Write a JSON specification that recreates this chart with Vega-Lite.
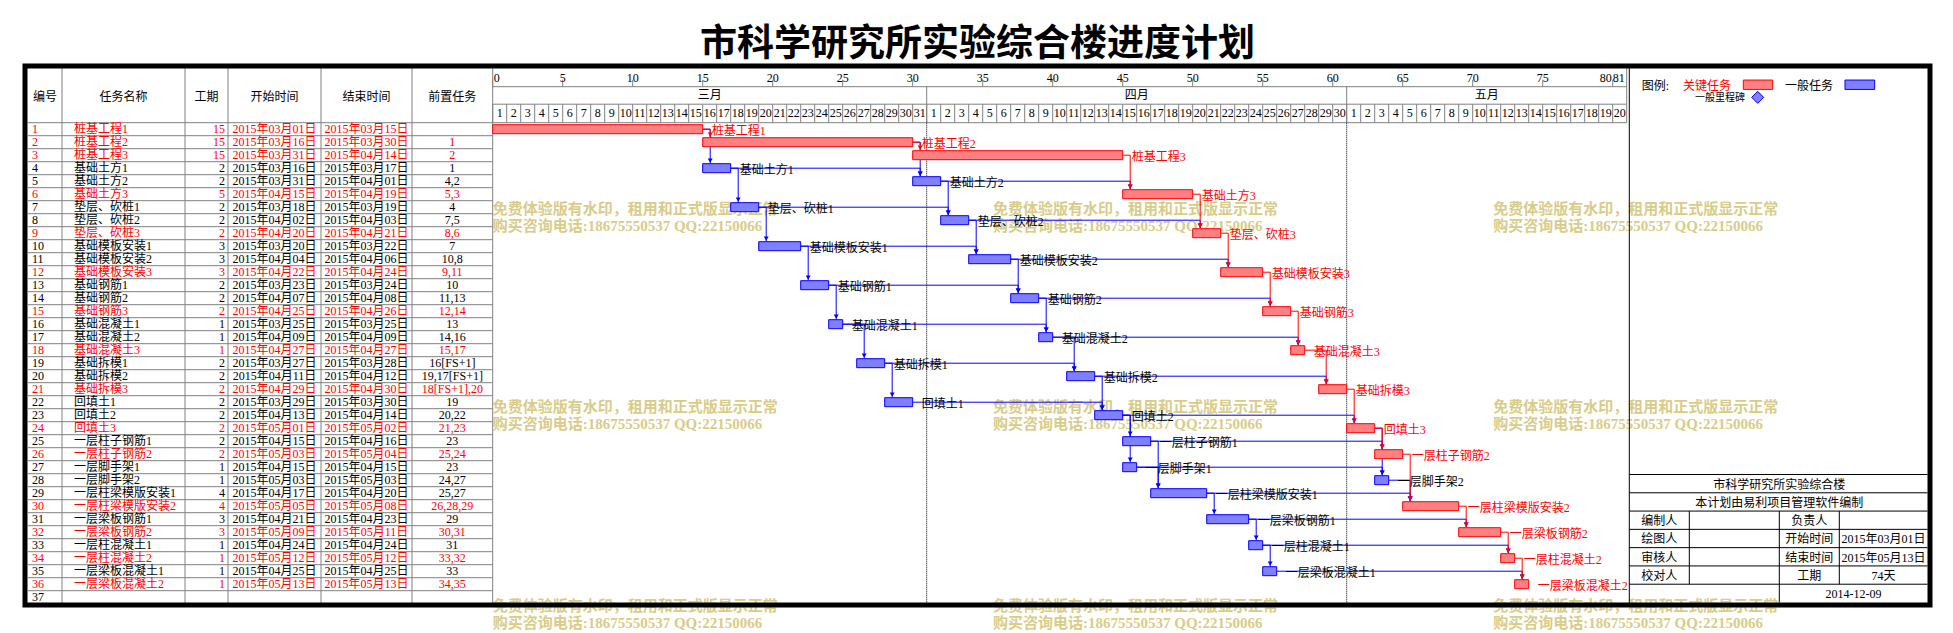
{
"$schema":"https://vega.github.io/schema/vega-lite/v6.json",
"width":1905,"height":539,
"autosize":{"type":"none"},
"padding":{"left":25,"top":66,"right":23,"bottom":28},
"background":"white",
"title":{"text":"市科学研究所实验综合楼进度计划","font":"Noto Sans CJK SC","fontSize":37,"fontWeight":"bold","color":"#000000","anchor":"middle","frame":"group","offset":3,"dy":3},
"config":{"view":{"stroke":null}},
"data":{"values":[{}]},
"datasets":{
"tasks":[
{"id":1,"name":"桩基工程1","dur":"15","start":"2015年03月01日","end":"2015年03月15日","pred":"","kind":"关键","s":0,"f":15},
{"id":2,"name":"桩基工程2","dur":"15","start":"2015年03月16日","end":"2015年03月30日","pred":"1","kind":"关键","s":15,"f":30},
{"id":3,"name":"桩基工程3","dur":"15","start":"2015年03月31日","end":"2015年04月14日","pred":"2","kind":"关键","s":30,"f":45},
{"id":4,"name":"基础土方1","dur":"2","start":"2015年03月16日","end":"2015年03月17日","pred":"1","kind":"一般","s":15,"f":17},
{"id":5,"name":"基础土方2","dur":"2","start":"2015年03月31日","end":"2015年04月01日","pred":"4,2","kind":"一般","s":30,"f":32},
{"id":6,"name":"基础土方3","dur":"5","start":"2015年04月15日","end":"2015年04月19日","pred":"5,3","kind":"关键","s":45,"f":50},
{"id":7,"name":"垫层、砍桩1","dur":"2","start":"2015年03月18日","end":"2015年03月19日","pred":"4","kind":"一般","s":17,"f":19},
{"id":8,"name":"垫层、砍桩2","dur":"2","start":"2015年04月02日","end":"2015年04月03日","pred":"7,5","kind":"一般","s":32,"f":34},
{"id":9,"name":"垫层、砍桩3","dur":"2","start":"2015年04月20日","end":"2015年04月21日","pred":"8,6","kind":"关键","s":50,"f":52},
{"id":10,"name":"基础模板安装1","dur":"3","start":"2015年03月20日","end":"2015年03月22日","pred":"7","kind":"一般","s":19,"f":22},
{"id":11,"name":"基础模板安装2","dur":"3","start":"2015年04月04日","end":"2015年04月06日","pred":"10,8","kind":"一般","s":34,"f":37},
{"id":12,"name":"基础模板安装3","dur":"3","start":"2015年04月22日","end":"2015年04月24日","pred":"9,11","kind":"关键","s":52,"f":55},
{"id":13,"name":"基础钢筋1","dur":"2","start":"2015年03月23日","end":"2015年03月24日","pred":"10","kind":"一般","s":22,"f":24},
{"id":14,"name":"基础钢筋2","dur":"2","start":"2015年04月07日","end":"2015年04月08日","pred":"11,13","kind":"一般","s":37,"f":39},
{"id":15,"name":"基础钢筋3","dur":"2","start":"2015年04月25日","end":"2015年04月26日","pred":"12,14","kind":"关键","s":55,"f":57},
{"id":16,"name":"基础混凝土1","dur":"1","start":"2015年03月25日","end":"2015年03月25日","pred":"13","kind":"一般","s":24,"f":25},
{"id":17,"name":"基础混凝土2","dur":"1","start":"2015年04月09日","end":"2015年04月09日","pred":"14,16","kind":"一般","s":39,"f":40},
{"id":18,"name":"基础混凝土3","dur":"1","start":"2015年04月27日","end":"2015年04月27日","pred":"15,17","kind":"关键","s":57,"f":58},
{"id":19,"name":"基础拆模1","dur":"2","start":"2015年03月27日","end":"2015年03月28日","pred":"16[FS+1]","kind":"一般","s":26,"f":28},
{"id":20,"name":"基础拆模2","dur":"2","start":"2015年04月11日","end":"2015年04月12日","pred":"19,17[FS+1]","kind":"一般","s":41,"f":43},
{"id":21,"name":"基础拆模3","dur":"2","start":"2015年04月29日","end":"2015年04月30日","pred":"18[FS+1],20","kind":"关键","s":59,"f":61},
{"id":22,"name":"回填土1","dur":"2","start":"2015年03月29日","end":"2015年03月30日","pred":"19","kind":"一般","s":28,"f":30},
{"id":23,"name":"回填土2","dur":"2","start":"2015年04月13日","end":"2015年04月14日","pred":"20,22","kind":"一般","s":43,"f":45},
{"id":24,"name":"回填土3","dur":"2","start":"2015年05月01日","end":"2015年05月02日","pred":"21,23","kind":"关键","s":61,"f":63},
{"id":25,"name":"一层柱子钢筋1","dur":"2","start":"2015年04月15日","end":"2015年04月16日","pred":"23","kind":"一般","s":45,"f":47},
{"id":26,"name":"一层柱子钢筋2","dur":"2","start":"2015年05月03日","end":"2015年05月04日","pred":"25,24","kind":"关键","s":63,"f":65},
{"id":27,"name":"一层脚手架1","dur":"1","start":"2015年04月15日","end":"2015年04月15日","pred":"23","kind":"一般","s":45,"f":46},
{"id":28,"name":"一层脚手架2","dur":"1","start":"2015年05月03日","end":"2015年05月03日","pred":"24,27","kind":"一般","s":63,"f":64},
{"id":29,"name":"一层柱梁模版安装1","dur":"4","start":"2015年04月17日","end":"2015年04月20日","pred":"25,27","kind":"一般","s":47,"f":51},
{"id":30,"name":"一层柱梁模版安装2","dur":"4","start":"2015年05月05日","end":"2015年05月08日","pred":"26,28,29","kind":"关键","s":65,"f":69},
{"id":31,"name":"一层梁板钢筋1","dur":"3","start":"2015年04月21日","end":"2015年04月23日","pred":"29","kind":"一般","s":51,"f":54},
{"id":32,"name":"一层梁板钢筋2","dur":"3","start":"2015年05月09日","end":"2015年05月11日","pred":"30,31","kind":"关键","s":69,"f":72},
{"id":33,"name":"一层柱混凝土1","dur":"1","start":"2015年04月24日","end":"2015年04月24日","pred":"31","kind":"一般","s":54,"f":55},
{"id":34,"name":"一层柱混凝土2","dur":"1","start":"2015年05月12日","end":"2015年05月12日","pred":"33,32","kind":"关键","s":72,"f":73},
{"id":35,"name":"一层梁板混凝土1","dur":"1","start":"2015年04月25日","end":"2015年04月25日","pred":"33","kind":"一般","s":55,"f":56},
{"id":36,"name":"一层梁板混凝土2","dur":"1","start":"2015年05月13日","end":"2015年05月13日","pred":"34,35","kind":"关键","s":73,"f":74},
{"id":37,"name":"","dur":"","start":"","end":"","pred":"","kind":"一般"}
],
"links":[
{"pre":1,"suc":4,"kind":"一般"},{"pre":4,"suc":5,"kind":"一般"},{"pre":2,"suc":5,"kind":"一般"},{"pre":5,"suc":6,"kind":"一般"},
{"pre":4,"suc":7,"kind":"一般"},{"pre":7,"suc":8,"kind":"一般"},{"pre":5,"suc":8,"kind":"一般"},{"pre":8,"suc":9,"kind":"一般"},
{"pre":7,"suc":10,"kind":"一般"},{"pre":10,"suc":11,"kind":"一般"},{"pre":8,"suc":11,"kind":"一般"},{"pre":11,"suc":12,"kind":"一般"},
{"pre":10,"suc":13,"kind":"一般"},{"pre":11,"suc":14,"kind":"一般"},{"pre":13,"suc":14,"kind":"一般"},{"pre":14,"suc":15,"kind":"一般"},
{"pre":13,"suc":16,"kind":"一般"},{"pre":14,"suc":17,"kind":"一般"},{"pre":16,"suc":17,"kind":"一般"},{"pre":17,"suc":18,"kind":"一般"},
{"pre":16,"suc":19,"kind":"一般"},{"pre":19,"suc":20,"kind":"一般"},{"pre":17,"suc":20,"kind":"一般"},{"pre":20,"suc":21,"kind":"一般"},
{"pre":19,"suc":22,"kind":"一般"},{"pre":20,"suc":23,"kind":"一般"},{"pre":22,"suc":23,"kind":"一般"},{"pre":23,"suc":24,"kind":"一般"},
{"pre":23,"suc":25,"kind":"一般"},{"pre":25,"suc":26,"kind":"一般"},{"pre":23,"suc":27,"kind":"一般"},{"pre":24,"suc":28,"kind":"一般"},
{"pre":27,"suc":28,"kind":"一般"},{"pre":25,"suc":29,"kind":"一般"},{"pre":27,"suc":29,"kind":"一般"},{"pre":28,"suc":30,"kind":"一般"},
{"pre":29,"suc":30,"kind":"一般"},{"pre":29,"suc":31,"kind":"一般"},{"pre":31,"suc":32,"kind":"一般"},{"pre":31,"suc":33,"kind":"一般"},
{"pre":33,"suc":34,"kind":"一般"},{"pre":33,"suc":35,"kind":"一般"},{"pre":35,"suc":36,"kind":"一般"},
{"pre":1,"suc":2,"kind":"关键"},{"pre":2,"suc":3,"kind":"关键"},{"pre":3,"suc":6,"kind":"关键"},{"pre":6,"suc":9,"kind":"关键"},
{"pre":9,"suc":12,"kind":"关键"},{"pre":12,"suc":15,"kind":"关键"},{"pre":15,"suc":18,"kind":"关键"},{"pre":18,"suc":21,"kind":"关键"},
{"pre":21,"suc":24,"kind":"关键"},{"pre":24,"suc":26,"kind":"关键"},{"pre":26,"suc":30,"kind":"关键"},{"pre":30,"suc":32,"kind":"关键"},
{"pre":32,"suc":34,"kind":"关键"},{"pre":34,"suc":36,"kind":"关键"}
],
"days":[
{"d":0,"n":1,"m":"三月"},{"d":1,"n":2,"m":"三月"},{"d":2,"n":3,"m":"三月"},{"d":3,"n":4,"m":"三月"},{"d":4,"n":5,"m":"三月"},{"d":5,"n":6,"m":"三月"},{"d":6,"n":7,"m":"三月"},{"d":7,"n":8,"m":"三月"},{"d":8,"n":9,"m":"三月"},{"d":9,"n":10,"m":"三月"},
{"d":10,"n":11,"m":"三月"},{"d":11,"n":12,"m":"三月"},{"d":12,"n":13,"m":"三月"},{"d":13,"n":14,"m":"三月"},{"d":14,"n":15,"m":"三月"},{"d":15,"n":16,"m":"三月"},{"d":16,"n":17,"m":"三月"},{"d":17,"n":18,"m":"三月"},{"d":18,"n":19,"m":"三月"},{"d":19,"n":20,"m":"三月"},
{"d":20,"n":21,"m":"三月"},{"d":21,"n":22,"m":"三月"},{"d":22,"n":23,"m":"三月"},{"d":23,"n":24,"m":"三月"},{"d":24,"n":25,"m":"三月"},{"d":25,"n":26,"m":"三月"},{"d":26,"n":27,"m":"三月"},{"d":27,"n":28,"m":"三月"},{"d":28,"n":29,"m":"三月"},{"d":29,"n":30,"m":"三月"},
{"d":30,"n":31,"m":"三月"},
{"d":31,"n":1,"m":"四月"},{"d":32,"n":2,"m":"四月"},{"d":33,"n":3,"m":"四月"},{"d":34,"n":4,"m":"四月"},{"d":35,"n":5,"m":"四月"},{"d":36,"n":6,"m":"四月"},{"d":37,"n":7,"m":"四月"},{"d":38,"n":8,"m":"四月"},{"d":39,"n":9,"m":"四月"},{"d":40,"n":10,"m":"四月"},
{"d":41,"n":11,"m":"四月"},{"d":42,"n":12,"m":"四月"},{"d":43,"n":13,"m":"四月"},{"d":44,"n":14,"m":"四月"},{"d":45,"n":15,"m":"四月"},{"d":46,"n":16,"m":"四月"},{"d":47,"n":17,"m":"四月"},{"d":48,"n":18,"m":"四月"},{"d":49,"n":19,"m":"四月"},{"d":50,"n":20,"m":"四月"},
{"d":51,"n":21,"m":"四月"},{"d":52,"n":22,"m":"四月"},{"d":53,"n":23,"m":"四月"},{"d":54,"n":24,"m":"四月"},{"d":55,"n":25,"m":"四月"},{"d":56,"n":26,"m":"四月"},{"d":57,"n":27,"m":"四月"},{"d":58,"n":28,"m":"四月"},{"d":59,"n":29,"m":"四月"},{"d":60,"n":30,"m":"四月"},
{"d":61,"n":1,"m":"五月"},{"d":62,"n":2,"m":"五月"},{"d":63,"n":3,"m":"五月"},{"d":64,"n":4,"m":"五月"},{"d":65,"n":5,"m":"五月"},{"d":66,"n":6,"m":"五月"},{"d":67,"n":7,"m":"五月"},{"d":68,"n":8,"m":"五月"},{"d":69,"n":9,"m":"五月"},{"d":70,"n":10,"m":"五月"},
{"d":71,"n":11,"m":"五月"},{"d":72,"n":12,"m":"五月"},{"d":73,"n":13,"m":"五月"},{"d":74,"n":14,"m":"五月"},{"d":75,"n":15,"m":"五月"},{"d":76,"n":16,"m":"五月"},{"d":77,"n":17,"m":"五月"},{"d":78,"n":18,"m":"五月"},{"d":79,"n":19,"m":"五月"},{"d":80,"n":20,"m":"五月"}
],
"water":[{"c":0,"r":0},{"c":1,"r":0},{"c":2,"r":0},{"c":0,"r":1},{"c":1,"r":1},{"c":2,"r":1},{"c":0,"r":2},{"c":1,"r":2},{"c":2,"r":2}],
"info":[
{"r":0,"title":"市科学研究所实验综合楼"},
{"r":1,"title":"本计划由易利项目管理软件编制"},
{"r":2,"k":"编制人","v":"","k2":"负责人","v2":""},
{"r":3,"k":"绘图人","v":"","k2":"开始时间","v2":"2015年03月01日"},
{"r":4,"k":"审核人","v":"","k2":"结束时间","v2":"2015年05月13日"},
{"r":5,"k":"校对人","v":"","k2":"工期","v2":"74天"},
{"r":6,"date":"2014-12-09"}
]
},
"resolve":{"scale":{"x":"independent","y":"independent"}},
"layer":[
{"layer":[
 {"data":{"name":"tasks"},"mark":{"type":"rule","color":"#808080","strokeWidth":1,"yOffset":6.5},"encoding":{"x":{"datum":0,"type":"quantitative","scale":{"domain":[0,1,2,3,4,5,6],"range":[3,37,160,203,296,387,467.7],"zero":false,"nice":false},"axis":null},"x2":{"datum":6},"y":{"field":"id","type":"quantitative","scale":{"domain":[-3.8615,37.6],"range":[0,539],"zero":false,"nice":false},"axis":null}}},
 {"mark":{"type":"rule","color":"#808080","strokeWidth":1},"encoding":{"x":{"datum":0,"type":"quantitative","scale":{"domain":[0,1,2,3,4,5,6],"range":[3,37,160,203,296,387,467.7],"zero":false,"nice":false},"axis":null},"x2":{"datum":6},"y":{"datum":0.5,"type":"quantitative","scale":{"domain":[-3.8615,37.6],"range":[0,539],"zero":false,"nice":false},"axis":null}}},
 {"mark":{"type":"rule","color":"#808080","strokeWidth":1},"encoding":{"x":{"datum":1,"type":"quantitative","scale":{"domain":[0,1,2,3,4,5,6],"range":[3,37,160,203,296,387,467.7],"zero":false,"nice":false},"axis":null}}},
 {"mark":{"type":"rule","color":"#808080","strokeWidth":1},"encoding":{"x":{"datum":2,"type":"quantitative","scale":{"domain":[0,1,2,3,4,5,6],"range":[3,37,160,203,296,387,467.7],"zero":false,"nice":false},"axis":null}}},
 {"mark":{"type":"rule","color":"#808080","strokeWidth":1},"encoding":{"x":{"datum":3,"type":"quantitative","scale":{"domain":[0,1,2,3,4,5,6],"range":[3,37,160,203,296,387,467.7],"zero":false,"nice":false},"axis":null}}},
 {"mark":{"type":"rule","color":"#808080","strokeWidth":1},"encoding":{"x":{"datum":4,"type":"quantitative","scale":{"domain":[0,1,2,3,4,5,6],"range":[3,37,160,203,296,387,467.7],"zero":false,"nice":false},"axis":null}}},
 {"mark":{"type":"rule","color":"#808080","strokeWidth":1},"encoding":{"x":{"datum":5,"type":"quantitative","scale":{"domain":[0,1,2,3,4,5,6],"range":[3,37,160,203,296,387,467.7],"zero":false,"nice":false},"axis":null}}},
 {"mark":{"type":"text","font":"Liberation Serif, Noto Sans CJK SC","fontSize":12,"color":"#000000","align":"center","baseline":"middle"},"encoding":{"x":{"datum":0.5,"type":"quantitative","scale":{"domain":[0,1,2,3,4,5,6],"range":[3,37,160,203,296,387,467.7],"zero":false,"nice":false},"axis":null},"y":{"datum":-1.5,"type":"quantitative","scale":{"domain":[-3.8615,37.6],"range":[0,539],"zero":false,"nice":false},"axis":null},"text":{"value":"编号"}}},
 {"mark":{"type":"text","font":"Liberation Serif, Noto Sans CJK SC","fontSize":12,"color":"#000000","align":"center","baseline":"middle"},"encoding":{"x":{"datum":1.5,"type":"quantitative","scale":{"domain":[0,1,2,3,4,5,6],"range":[3,37,160,203,296,387,467.7],"zero":false,"nice":false},"axis":null},"y":{"datum":-1.5,"type":"quantitative","scale":{"domain":[-3.8615,37.6],"range":[0,539],"zero":false,"nice":false},"axis":null},"text":{"value":"任务名称"}}},
 {"mark":{"type":"text","font":"Liberation Serif, Noto Sans CJK SC","fontSize":12,"color":"#000000","align":"center","baseline":"middle"},"encoding":{"x":{"datum":2.5,"type":"quantitative","scale":{"domain":[0,1,2,3,4,5,6],"range":[3,37,160,203,296,387,467.7],"zero":false,"nice":false},"axis":null},"y":{"datum":-1.5,"type":"quantitative","scale":{"domain":[-3.8615,37.6],"range":[0,539],"zero":false,"nice":false},"axis":null},"text":{"value":"工期"}}},
 {"mark":{"type":"text","font":"Liberation Serif, Noto Sans CJK SC","fontSize":12,"color":"#000000","align":"center","baseline":"middle"},"encoding":{"x":{"datum":3.5,"type":"quantitative","scale":{"domain":[0,1,2,3,4,5,6],"range":[3,37,160,203,296,387,467.7],"zero":false,"nice":false},"axis":null},"y":{"datum":-1.5,"type":"quantitative","scale":{"domain":[-3.8615,37.6],"range":[0,539],"zero":false,"nice":false},"axis":null},"text":{"value":"开始时间"}}},
 {"mark":{"type":"text","font":"Liberation Serif, Noto Sans CJK SC","fontSize":12,"color":"#000000","align":"center","baseline":"middle"},"encoding":{"x":{"datum":4.5,"type":"quantitative","scale":{"domain":[0,1,2,3,4,5,6],"range":[3,37,160,203,296,387,467.7],"zero":false,"nice":false},"axis":null},"y":{"datum":-1.5,"type":"quantitative","scale":{"domain":[-3.8615,37.6],"range":[0,539],"zero":false,"nice":false},"axis":null},"text":{"value":"结束时间"}}},
 {"mark":{"type":"text","font":"Liberation Serif, Noto Sans CJK SC","fontSize":12,"color":"#000000","align":"center","baseline":"middle"},"encoding":{"x":{"datum":5.5,"type":"quantitative","scale":{"domain":[0,1,2,3,4,5,6],"range":[3,37,160,203,296,387,467.7],"zero":false,"nice":false},"axis":null},"y":{"datum":-1.5,"type":"quantitative","scale":{"domain":[-3.8615,37.6],"range":[0,539],"zero":false,"nice":false},"axis":null},"text":{"value":"前置任务"}}},
 {"data":{"name":"tasks"},"mark":{"type":"text","font":"Liberation Serif, Noto Sans CJK SC","fontSize":12,"align":"left","baseline":"middle","dx":4},"encoding":{"x":{"datum":0,"type":"quantitative","scale":{"domain":[0,1,2,3,4,5,6],"range":[3,37,160,203,296,387,467.7],"zero":false,"nice":false},"axis":null},"y":{"field":"id","type":"quantitative","scale":{"domain":[-3.8615,37.6],"range":[0,539],"zero":false,"nice":false},"axis":null},"text":{"field":"id","type":"nominal"},"color":{"field":"kind","type":"nominal","scale":{"domain":["关键","一般"],"range":["#ff0000","#000000"]},"legend":null}}},
 {"data":{"name":"tasks"},"mark":{"type":"text","font":"Liberation Serif, Noto Sans CJK SC","fontSize":12,"align":"left","baseline":"middle","dx":12},"encoding":{"x":{"datum":1,"type":"quantitative","scale":{"domain":[0,1,2,3,4,5,6],"range":[3,37,160,203,296,387,467.7],"zero":false,"nice":false},"axis":null},"y":{"field":"id","type":"quantitative","scale":{"domain":[-3.8615,37.6],"range":[0,539],"zero":false,"nice":false},"axis":null},"text":{"field":"name","type":"nominal"},"color":{"field":"kind","type":"nominal","scale":{"domain":["关键","一般"],"range":["#ff0000","#000000"]},"legend":null}}},
 {"data":{"name":"tasks"},"mark":{"type":"text","font":"Liberation Serif, Noto Sans CJK SC","fontSize":12,"align":"right","baseline":"middle","dx":-3},"encoding":{"x":{"datum":3,"type":"quantitative","scale":{"domain":[0,1,2,3,4,5,6],"range":[3,37,160,203,296,387,467.7],"zero":false,"nice":false},"axis":null},"y":{"field":"id","type":"quantitative","scale":{"domain":[-3.8615,37.6],"range":[0,539],"zero":false,"nice":false},"axis":null},"text":{"field":"dur","type":"nominal"},"color":{"field":"kind","type":"nominal","scale":{"domain":["关键","一般"],"range":["#ff0000","#000000"]},"legend":null}}},
 {"data":{"name":"tasks"},"mark":{"type":"text","font":"Liberation Serif, Noto Sans CJK SC","fontSize":12,"align":"center","baseline":"middle"},"encoding":{"x":{"datum":3.5,"type":"quantitative","scale":{"domain":[0,1,2,3,4,5,6],"range":[3,37,160,203,296,387,467.7],"zero":false,"nice":false},"axis":null},"y":{"field":"id","type":"quantitative","scale":{"domain":[-3.8615,37.6],"range":[0,539],"zero":false,"nice":false},"axis":null},"text":{"field":"start","type":"nominal"},"color":{"field":"kind","type":"nominal","scale":{"domain":["关键","一般"],"range":["#ff0000","#000000"]},"legend":null}}},
 {"data":{"name":"tasks"},"mark":{"type":"text","font":"Liberation Serif, Noto Sans CJK SC","fontSize":12,"align":"center","baseline":"middle"},"encoding":{"x":{"datum":4.5,"type":"quantitative","scale":{"domain":[0,1,2,3,4,5,6],"range":[3,37,160,203,296,387,467.7],"zero":false,"nice":false},"axis":null},"y":{"field":"id","type":"quantitative","scale":{"domain":[-3.8615,37.6],"range":[0,539],"zero":false,"nice":false},"axis":null},"text":{"field":"end","type":"nominal"},"color":{"field":"kind","type":"nominal","scale":{"domain":["关键","一般"],"range":["#ff0000","#000000"]},"legend":null}}},
 {"data":{"name":"tasks"},"mark":{"type":"text","font":"Liberation Serif, Noto Sans CJK SC","fontSize":12,"align":"center","baseline":"middle"},"encoding":{"x":{"datum":5.5,"type":"quantitative","scale":{"domain":[0,1,2,3,4,5,6],"range":[3,37,160,203,296,387,467.7],"zero":false,"nice":false},"axis":null},"y":{"field":"id","type":"quantitative","scale":{"domain":[-3.8615,37.6],"range":[0,539],"zero":false,"nice":false},"axis":null},"text":{"field":"pred","type":"nominal"},"color":{"field":"kind","type":"nominal","scale":{"domain":["关键","一般"],"range":["#ff0000","#000000"]},"legend":null}}}
]},
{"data":{"name":"water"},"mark":{"type":"text","text":["免费体验版有水印，租用和正式版显示正常","购买咨询电话:18675550537 QQ:22150066"],"font":"Liberation Serif, Noto Sans CJK SC","fontWeight":"bold","fontSize":15,"color":"#d8cc88","align":"left","baseline":"alphabetic","lineHeight":17},"encoding":{"x":{"field":"c","type":"quantitative","scale":{"domain":[0,2],"range":[467.7,1468.3],"zero":false,"nice":false},"axis":null},"y":{"field":"r","type":"quantitative","scale":{"domain":[0,2],"range":[147.7,544.7],"zero":false,"nice":false},"axis":null}}},
{"layer":[
 {"data":{"name":"days"},"mark":{"type":"rule","color":"#808080","strokeWidth":1},"encoding":{"x":{"field":"d","type":"quantitative","scale":{"domain":[0,81],"range":[467.7,1601.7],"zero":false,"nice":false},"axis":null},"y":{"datum":-0.923,"type":"quantitative","scale":{"domain":[-3.8615,37.6],"range":[0,539],"zero":false,"nice":false},"axis":null},"y2":{"datum":0.5}}},
 {"data":{"name":"days"},"transform":[{"filter":"datum.d % 5 == 0"}],"mark":{"type":"rule","color":"#808080","strokeWidth":1,"y2Offset":-7},"encoding":{"x":{"field":"d","type":"quantitative","scale":{"domain":[0,81],"range":[467.7,1601.7],"zero":false,"nice":false},"axis":null},"y":{"datum":-2.269,"type":"quantitative","scale":{"domain":[-3.8615,37.6],"range":[0,539],"zero":false,"nice":false},"axis":null},"y2":{"datum":-2.269}}},
 {"data":{"name":"days"},"transform":[{"filter":"datum.d % 5 == 0 && datum.d > 0 && datum.d < 80"}],"mark":{"type":"text","font":"Liberation Serif","fontSize":12,"color":"#000000","align":"center","baseline":"alphabetic"},"encoding":{"x":{"field":"d","type":"quantitative","scale":{"domain":[0,81],"range":[467.7,1601.7],"zero":false,"nice":false},"axis":null},"y":{"datum":-2.65,"type":"quantitative","scale":{"domain":[-3.8615,37.6],"range":[0,539],"zero":false,"nice":false},"axis":null},"text":{"field":"d","type":"nominal"}}},
 {"data":{"name":"days"},"transform":[{"filter":"datum.d == 0"}],"mark":{"type":"text","font":"Liberation Serif","fontSize":12,"color":"#000000","align":"left","baseline":"alphabetic","dx":1},"encoding":{"x":{"field":"d","type":"quantitative","scale":{"domain":[0,81],"range":[467.7,1601.7],"zero":false,"nice":false},"axis":null},"y":{"datum":-2.65,"type":"quantitative","scale":{"domain":[-3.8615,37.6],"range":[0,539],"zero":false,"nice":false},"axis":null},"text":{"field":"d","type":"nominal"}}},
 {"data":{"name":"days"},"transform":[{"filter":"datum.d == 80"}],"mark":{"type":"text","font":"Liberation Serif","fontSize":12,"color":"#000000","align":"right","baseline":"alphabetic","dx":-1},"encoding":{"x":{"field":"d","type":"quantitative","scale":{"domain":[0,81],"range":[467.7,1601.7],"zero":false,"nice":false},"axis":null},"y":{"datum":-2.65,"type":"quantitative","scale":{"domain":[-3.8615,37.6],"range":[0,539],"zero":false,"nice":false},"axis":null},"text":{"field":"d","type":"nominal"}}},
 {"mark":{"type":"text","font":"Liberation Serif","fontSize":12,"color":"#000000","align":"right","baseline":"alphabetic","dx":-2},"encoding":{"x":{"datum":81,"type":"quantitative","scale":{"domain":[0,81],"range":[467.7,1601.7],"zero":false,"nice":false},"axis":null},"y":{"datum":-2.65,"type":"quantitative","scale":{"domain":[-3.8615,37.6],"range":[0,539],"zero":false,"nice":false},"axis":null},"text":{"value":"81"}}},
 {"mark":{"type":"rule","color":"#808080","strokeWidth":1},"encoding":{"x":{"datum":81,"type":"quantitative","scale":{"domain":[0,81],"range":[467.7,1601.7],"zero":false,"nice":false},"axis":null},"y":{"datum":-3.95,"type":"quantitative","scale":{"domain":[-3.8615,37.6],"range":[0,539],"zero":false,"nice":false},"axis":null},"y2":{"datum":0.5}}},
 {"mark":{"type":"rule","color":"#808080","strokeWidth":1},"encoding":{"x":{"datum":0,"type":"quantitative","scale":{"domain":[0,81],"range":[467.7,1601.7],"zero":false,"nice":false},"axis":null}}},
 {"mark":{"type":"rule","color":"#808080","strokeWidth":1},"encoding":{"x":{"datum":0,"type":"quantitative","scale":{"domain":[0,81],"range":[467.7,1601.7],"zero":false,"nice":false},"axis":null},"x2":{"datum":81},"y":{"datum":-2.269,"type":"quantitative","scale":{"domain":[-3.8615,37.6],"range":[0,539],"zero":false,"nice":false},"axis":null}}},
 {"mark":{"type":"rule","color":"#808080","strokeWidth":1},"encoding":{"x":{"datum":0,"type":"quantitative","scale":{"domain":[0,81],"range":[467.7,1601.7],"zero":false,"nice":false},"axis":null},"x2":{"datum":81},"y":{"datum":-0.923,"type":"quantitative","scale":{"domain":[-3.8615,37.6],"range":[0,539],"zero":false,"nice":false},"axis":null}}},
 {"mark":{"type":"rule","color":"#808080","strokeWidth":1},"encoding":{"x":{"datum":0,"type":"quantitative","scale":{"domain":[0,81],"range":[467.7,1601.7],"zero":false,"nice":false},"axis":null},"x2":{"datum":81},"y":{"datum":0.5,"type":"quantitative","scale":{"domain":[-3.8615,37.6],"range":[0,539],"zero":false,"nice":false},"axis":null}}},
 {"data":{"name":"days"},"transform":[{"filter":"datum.m != '三月'"},{"aggregate":[{"op":"min","field":"d","as":"d0"}],"groupby":["m"]}],"mark":{"type":"rule","color":"#808080","strokeWidth":1},"encoding":{"x":{"field":"d0","type":"quantitative","scale":{"domain":[0,81],"range":[467.7,1601.7],"zero":false,"nice":false},"axis":null},"y":{"datum":-2.269,"type":"quantitative","scale":{"domain":[-3.8615,37.6],"range":[0,539],"zero":false,"nice":false},"axis":null},"y2":{"datum":0.5}}},
 {"data":{"name":"days"},"transform":[{"filter":"datum.m != '三月'"},{"aggregate":[{"op":"min","field":"d","as":"d0"}],"groupby":["m"]}],"mark":{"type":"rule","color":"#000000","strokeWidth":1,"strokeDash":[1,1]},"encoding":{"x":{"field":"d0","type":"quantitative","scale":{"domain":[0,81],"range":[467.7,1601.7],"zero":false,"nice":false},"axis":null},"y":{"datum":0.5,"type":"quantitative","scale":{"domain":[-3.8615,37.6],"range":[0,539],"zero":false,"nice":false},"axis":null},"y2":{"datum":37.45}}},
 {"data":{"name":"days"},"mark":{"type":"text","font":"Liberation Serif, Noto Sans CJK SC","fontSize":12,"color":"#000000","align":"center","baseline":"middle","dx":7},"encoding":{"x":{"field":"d","type":"quantitative","scale":{"domain":[0,81],"range":[467.7,1601.7],"zero":false,"nice":false},"axis":null},"y":{"datum":-0.215,"type":"quantitative","scale":{"domain":[-3.8615,37.6],"range":[0,539],"zero":false,"nice":false},"axis":null},"text":{"field":"n","type":"nominal"}}},
 {"data":{"name":"days"},"transform":[{"aggregate":[{"op":"mean","field":"d","as":"dm"}],"groupby":["m"]}],"mark":{"type":"text","font":"Liberation Serif, Noto Sans CJK SC","fontSize":12,"color":"#000000","align":"center","baseline":"middle","dx":7},"encoding":{"x":{"field":"dm","type":"quantitative","scale":{"domain":[0,81],"range":[467.7,1601.7],"zero":false,"nice":false},"axis":null},"y":{"datum":-1.6,"type":"quantitative","scale":{"domain":[-3.8615,37.6],"range":[0,539],"zero":false,"nice":false},"axis":null},"text":{"field":"m","type":"nominal"}}},
 {"data":{"name":"links"},
  "transform":[{"lookup":"pre","from":{"data":{"name":"tasks"},"key":"id","fields":["f"]},"as":["pf"]},{"lookup":"suc","from":{"data":{"name":"tasks"},"key":"id","fields":["s"]},"as":["ss"]}],
  "layer":[
   {"transform":[{"filter":"datum.kind == '一般'"}],"mark":{"type":"rule","color":"#0000ff","strokeWidth":1,"x2Offset":7.5},"encoding":{"x":{"field":"pf","type":"quantitative","scale":{"domain":[0,81],"range":[467.7,1601.7],"zero":false,"nice":false},"axis":null},"x2":{"field":"ss"},"y":{"field":"pre","type":"quantitative","scale":{"domain":[-3.8615,37.6],"range":[0,539],"zero":false,"nice":false},"axis":null}}},
   {"transform":[{"filter":"datum.kind == '一般'"}],"mark":{"type":"rule","color":"#0000ff","strokeWidth":1,"xOffset":7.5,"y2Offset":-5},"encoding":{"x":{"field":"ss","type":"quantitative","scale":{"domain":[0,81],"range":[467.7,1601.7],"zero":false,"nice":false},"axis":null},"y":{"field":"pre","type":"quantitative","scale":{"domain":[-3.8615,37.6],"range":[0,539],"zero":false,"nice":false},"axis":null},"y2":{"field":"suc"}}},
   {"transform":[{"filter":"datum.kind == '关键'"}],"mark":{"type":"rule","color":"#ff0000","strokeWidth":1,"x2Offset":7.5},"encoding":{"x":{"field":"pf","type":"quantitative","scale":{"domain":[0,81],"range":[467.7,1601.7],"zero":false,"nice":false},"axis":null},"x2":{"field":"ss"},"y":{"field":"pre","type":"quantitative","scale":{"domain":[-3.8615,37.6],"range":[0,539],"zero":false,"nice":false},"axis":null}}},
   {"transform":[{"filter":"datum.kind == '关键'"}],"mark":{"type":"rule","color":"#ff0000","strokeWidth":1,"xOffset":7.5,"y2Offset":-5},"encoding":{"x":{"field":"ss","type":"quantitative","scale":{"domain":[0,81],"range":[467.7,1601.7],"zero":false,"nice":false},"axis":null},"y":{"field":"pre","type":"quantitative","scale":{"domain":[-3.8615,37.6],"range":[0,539],"zero":false,"nice":false},"axis":null},"y2":{"field":"suc"}}},
   {"transform":[{"filter":"datum.kind == '一般'"}],"mark":{"type":"point","shape":"triangle-down","filled":true,"size":24,"color":"#0000ff","opacity":1,"xOffset":7.5,"yOffset":-7.5},"encoding":{"x":{"field":"ss","type":"quantitative","scale":{"domain":[0,81],"range":[467.7,1601.7],"zero":false,"nice":false},"axis":null},"y":{"field":"suc","type":"quantitative","scale":{"domain":[-3.8615,37.6],"range":[0,539],"zero":false,"nice":false},"axis":null}}},
   {"transform":[{"filter":"datum.kind == '关键'"}],"mark":{"type":"point","shape":"triangle-down","filled":true,"size":24,"color":"#ff0000","opacity":1,"xOffset":7.5,"yOffset":-7.5},"encoding":{"x":{"field":"ss","type":"quantitative","scale":{"domain":[0,81],"range":[467.7,1601.7],"zero":false,"nice":false},"axis":null},"y":{"field":"suc","type":"quantitative","scale":{"domain":[-3.8615,37.6],"range":[0,539],"zero":false,"nice":false},"axis":null}}}
  ]},
 {"data":{"name":"tasks"},"mark":{"type":"rect","strokeWidth":1,"yOffset":-4.5,"y2Offset":4.5},"encoding":{"x":{"field":"s","type":"quantitative","scale":{"domain":[0,81],"range":[467.7,1601.7],"zero":false,"nice":false},"axis":null},"x2":{"field":"f"},"y":{"field":"id","type":"quantitative","scale":{"domain":[-3.8615,37.6],"range":[0,539],"zero":false,"nice":false},"axis":null},"y2":{"field":"id"},"fill":{"field":"kind","type":"nominal","scale":{"domain":["关键","一般"],"range":["#ff8080","#8080ff"]},"legend":null},"stroke":{"field":"kind","type":"nominal","scale":{"domain":["关键","一般"],"range":["#ff0000","#0000ff"]},"legend":null}}},
 {"data":{"name":"tasks"},"mark":{"type":"text","font":"Liberation Serif, Noto Sans CJK SC","fontSize":12,"align":"left","baseline":"middle","dx":9,"dy":2},"encoding":{"x":{"field":"f","type":"quantitative","scale":{"domain":[0,81],"range":[467.7,1601.7],"zero":false,"nice":false},"axis":null},"y":{"field":"id","type":"quantitative","scale":{"domain":[-3.8615,37.6],"range":[0,539],"zero":false,"nice":false},"axis":null},"text":{"field":"name","type":"nominal"},"color":{"field":"kind","type":"nominal","scale":{"domain":["关键","一般"],"range":["#ff0000","#000000"]},"legend":null}}}
]},
{"layer":[
 {"mark":{"type":"rule","color":"#000000","strokeWidth":1},"encoding":{"x":{"datum":0,"type":"quantitative","scale":{"domain":[0,1,2,3,4],"range":[1604.3,1664.3,1754.3,1814.3,1902.5],"zero":false,"nice":false},"axis":null}}},
 {"mark":{"type":"text","font":"Liberation Serif, Noto Sans CJK SC","fontSize":12,"color":"#000000","align":"left","baseline":"middle"},"encoding":{"x":{"datum":0.2067,"type":"quantitative","scale":{"domain":[0,1,2,3,4],"range":[1604.3,1664.3,1754.3,1814.3,1902.5],"zero":false,"nice":false},"axis":null},"y":{"datum":-2.35,"type":"quantitative","scale":{"domain":[-3.8615,37.6],"range":[0,539],"zero":false,"nice":false},"axis":null},"text":{"value":"图例:"}}},
 {"mark":{"type":"text","font":"Liberation Serif, Noto Sans CJK SC","fontSize":12,"color":"#ff0000","align":"left","baseline":"middle"},"encoding":{"x":{"datum":0.895,"type":"quantitative","scale":{"domain":[0,1,2,3,4],"range":[1604.3,1664.3,1754.3,1814.3,1902.5],"zero":false,"nice":false},"axis":null},"y":{"datum":-2.35,"type":"quantitative","scale":{"domain":[-3.8615,37.6],"range":[0,539],"zero":false,"nice":false},"axis":null},"text":{"value":"关键任务"}}},
 {"mark":{"type":"rect","fill":"#ff8080","stroke":"#ff0000","strokeWidth":1},"encoding":{"x":{"datum":1.6,"type":"quantitative","scale":{"domain":[0,1,2,3,4],"range":[1604.3,1664.3,1754.3,1814.3,1902.5],"zero":false,"nice":false},"axis":null},"x2":{"datum":1.9267},"y":{"datum":-2.78,"type":"quantitative","scale":{"domain":[-3.8615,37.6],"range":[0,539],"zero":false,"nice":false},"axis":null},"y2":{"datum":-2.06}}},
 {"mark":{"type":"text","font":"Liberation Serif, Noto Sans CJK SC","fontSize":12,"color":"#000000","align":"left","baseline":"middle"},"encoding":{"x":{"datum":2.095,"type":"quantitative","scale":{"domain":[0,1,2,3,4],"range":[1604.3,1664.3,1754.3,1814.3,1902.5],"zero":false,"nice":false},"axis":null},"y":{"datum":-2.35,"type":"quantitative","scale":{"domain":[-3.8615,37.6],"range":[0,539],"zero":false,"nice":false},"axis":null},"text":{"value":"一般任务"}}},
 {"mark":{"type":"rect","fill":"#8080ff","stroke":"#0000ff","strokeWidth":1},"encoding":{"x":{"datum":3.0646,"type":"quantitative","scale":{"domain":[0,1,2,3,4],"range":[1604.3,1664.3,1754.3,1814.3,1902.5],"zero":false,"nice":false},"axis":null},"x2":{"datum":3.401},"y":{"datum":-2.78,"type":"quantitative","scale":{"domain":[-3.8615,37.6],"range":[0,539],"zero":false,"nice":false},"axis":null},"y2":{"datum":-2.06}}},
 {"mark":{"type":"text","font":"Liberation Serif, Noto Sans CJK SC","fontSize":10,"color":"#000000","align":"left","baseline":"middle"},"encoding":{"x":{"datum":1.0633,"type":"quantitative","scale":{"domain":[0,1,2,3,4],"range":[1604.3,1664.3,1754.3,1814.3,1902.5],"zero":false,"nice":false},"axis":null},"y":{"datum":-1.42,"type":"quantitative","scale":{"domain":[-3.8615,37.6],"range":[0,539],"zero":false,"nice":false},"axis":null},"text":{"value":"一般里程碑"}}},
 {"mark":{"type":"point","shape":"diamond","filled":true,"size":144,"fill":"#8080ff","stroke":"#0000ff","strokeWidth":1,"opacity":1},"encoding":{"x":{"datum":1.76,"type":"quantitative","scale":{"domain":[0,1,2,3,4],"range":[1604.3,1664.3,1754.3,1814.3,1902.5],"zero":false,"nice":false},"axis":null},"y":{"datum":-1.45,"type":"quantitative","scale":{"domain":[-3.8615,37.6],"range":[0,539],"zero":false,"nice":false},"axis":null}}}
]},
{"data":{"name":"info"},"layer":[
 {"mark":{"type":"rule","color":"#000000","strokeWidth":1},"encoding":{"x":{"datum":0,"type":"quantitative","scale":{"domain":[0,1,2,3,4],"range":[1604.3,1664.3,1754.3,1814.3,1902.5],"zero":false,"nice":false},"axis":null},"x2":{"datum":4},"y":{"field":"r","type":"quantitative","scale":{"domain":[0,7],"range":[408.5,536.5],"zero":false,"nice":false},"axis":null}}},
 {"transform":[{"filter":"datum.k"}],"mark":{"type":"rule","color":"#000000","strokeWidth":1,"y2Offset":18.29},"encoding":{"x":{"datum":1,"type":"quantitative","scale":{"domain":[0,1,2,3,4],"range":[1604.3,1664.3,1754.3,1814.3,1902.5],"zero":false,"nice":false},"axis":null},"y":{"field":"r","type":"quantitative","scale":{"domain":[0,7],"range":[408.5,536.5],"zero":false,"nice":false},"axis":null},"y2":{"field":"r"}}},
 {"transform":[{"filter":"datum.k"}],"mark":{"type":"rule","color":"#000000","strokeWidth":1,"y2Offset":18.29},"encoding":{"x":{"datum":3,"type":"quantitative","scale":{"domain":[0,1,2,3,4],"range":[1604.3,1664.3,1754.3,1814.3,1902.5],"zero":false,"nice":false},"axis":null},"y":{"field":"r","type":"quantitative","scale":{"domain":[0,7],"range":[408.5,536.5],"zero":false,"nice":false},"axis":null},"y2":{"field":"r"}}},
 {"transform":[{"filter":"datum.r >= 2"}],"mark":{"type":"rule","color":"#000000","strokeWidth":1,"y2Offset":18.29},"encoding":{"x":{"datum":2,"type":"quantitative","scale":{"domain":[0,1,2,3,4],"range":[1604.3,1664.3,1754.3,1814.3,1902.5],"zero":false,"nice":false},"axis":null},"y":{"field":"r","type":"quantitative","scale":{"domain":[0,7],"range":[408.5,536.5],"zero":false,"nice":false},"axis":null},"y2":{"field":"r"}}},
 {"transform":[{"filter":"datum.title"}],"mark":{"type":"text","font":"Liberation Serif, Noto Sans CJK SC","fontSize":12,"color":"#000000","align":"center","baseline":"middle","yOffset":10},"encoding":{"x":{"datum":2,"type":"quantitative","scale":{"domain":[0,1,2,3,4],"range":[1604.3,1664.3,1754.3,1814.3,1902.5],"zero":false,"nice":false},"axis":null},"y":{"field":"r","type":"quantitative","scale":{"domain":[0,7],"range":[408.5,536.5],"zero":false,"nice":false},"axis":null},"text":{"field":"title","type":"nominal"}}},
 {"transform":[{"filter":"datum.k"}],"mark":{"type":"text","font":"Liberation Serif, Noto Sans CJK SC","fontSize":12,"color":"#000000","align":"center","baseline":"middle","yOffset":10},"encoding":{"x":{"datum":0.5,"type":"quantitative","scale":{"domain":[0,1,2,3,4],"range":[1604.3,1664.3,1754.3,1814.3,1902.5],"zero":false,"nice":false},"axis":null},"y":{"field":"r","type":"quantitative","scale":{"domain":[0,7],"range":[408.5,536.5],"zero":false,"nice":false},"axis":null},"text":{"field":"k","type":"nominal"}}},
 {"transform":[{"filter":"datum.k"}],"mark":{"type":"text","font":"Liberation Serif, Noto Sans CJK SC","fontSize":12,"color":"#000000","align":"center","baseline":"middle","yOffset":10},"encoding":{"x":{"datum":2.5,"type":"quantitative","scale":{"domain":[0,1,2,3,4],"range":[1604.3,1664.3,1754.3,1814.3,1902.5],"zero":false,"nice":false},"axis":null},"y":{"field":"r","type":"quantitative","scale":{"domain":[0,7],"range":[408.5,536.5],"zero":false,"nice":false},"axis":null},"text":{"field":"k2","type":"nominal"}}},
 {"transform":[{"filter":"datum.k"}],"mark":{"type":"text","font":"Liberation Serif, Noto Sans CJK SC","fontSize":12,"color":"#000000","align":"center","baseline":"middle","yOffset":10},"encoding":{"x":{"datum":3.5,"type":"quantitative","scale":{"domain":[0,1,2,3,4],"range":[1604.3,1664.3,1754.3,1814.3,1902.5],"zero":false,"nice":false},"axis":null},"y":{"field":"r","type":"quantitative","scale":{"domain":[0,7],"range":[408.5,536.5],"zero":false,"nice":false},"axis":null},"text":{"field":"v2","type":"nominal"}}},
 {"transform":[{"filter":"datum.date"}],"mark":{"type":"text","font":"Liberation Serif, Noto Sans CJK SC","fontSize":12,"color":"#000000","align":"center","baseline":"middle","yOffset":10},"encoding":{"x":{"datum":3.16,"type":"quantitative","scale":{"domain":[0,1,2,3,4],"range":[1604.3,1664.3,1754.3,1814.3,1902.5],"zero":false,"nice":false},"axis":null},"y":{"field":"r","type":"quantitative","scale":{"domain":[0,7],"range":[408.5,536.5],"zero":false,"nice":false},"axis":null},"text":{"field":"date","type":"nominal"}}}
]},
{"mark":{"type":"rect","filled":false,"color":"#000000","strokeWidth":5},"encoding":{}}
]
}
